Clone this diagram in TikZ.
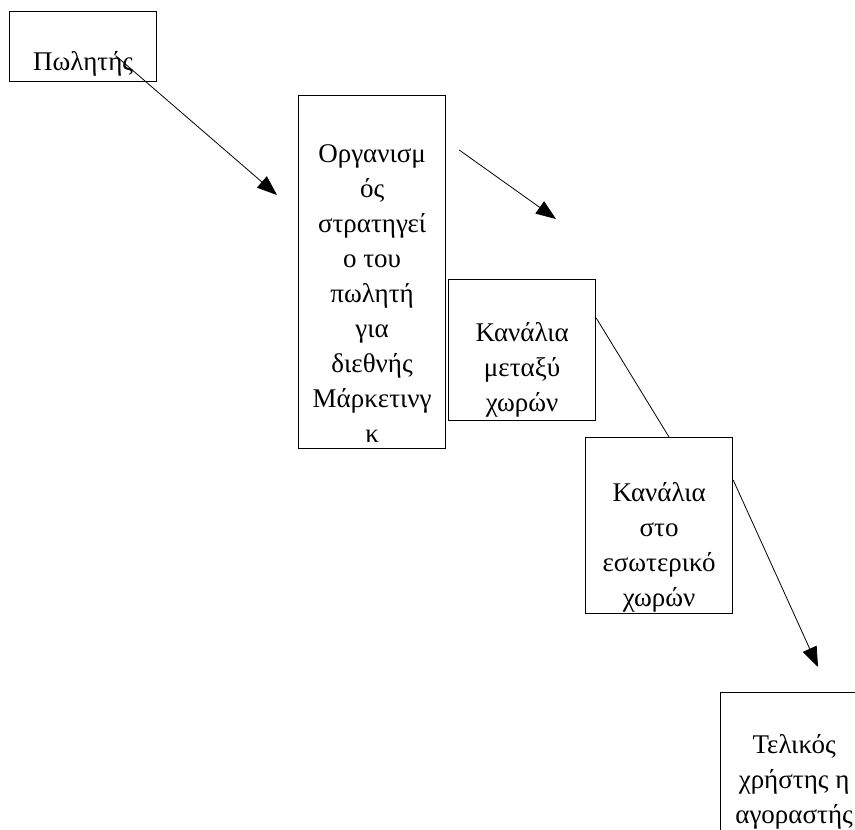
\documentclass[tikz,border=0pt]{standalone}
\usepackage{fontspec}
\setmainfont{Liberation Serif}
\usetikzlibrary{arrows.meta,calc}
\begin{document}
\begin{tikzpicture}[x=1pt,y=-1pt]
  % Parameters
  \def\boxwidth{147}
  \def\linesep{35}

  % Styles for boxes, texts and arrows
  \tikzset{
    chanbox/.style={draw, line width=1.2pt, anchor=north west, inner sep=0pt,
      minimum width=\boxwidth pt},
    chantext/.style={anchor=north, align=center, inner sep=0pt,
      font=\fontsize{27}{\linesep}\selectfont},
    flow/.style={line width=0.8pt, -{Triangle[length=20pt,width=15pt]}},
    link/.style={line width=0.8pt}
  }

  % Page frame
  \useasboundingbox (0,0) rectangle (855,830);
  \clip (0,0) rectangle (855,830);

  % Boxes
  \node[chanbox, minimum height=70pt]  (seller)   at (9,11)   {};
  \node[chanbox, minimum height=353pt] (org)      at (298,95) {};
  \node[chanbox, minimum height=141pt] (transit)  at (448,279) {};
  \node[chanbox, minimum height=176pt] (domestic) at (585,437) {};
  \node[chanbox, minimum height=200pt] (enduser)  at (720,692) {};

  % Texts
  \node[chantext] (seller-txt) at ($(seller.north)+(0,34.5)$) {\strut Πωλητής};
  \node[chantext] (org-txt) at ($(org.north)+(0,42.5)$)
    {\strut Οργανισμ\\ός\\στρατηγεί\\ο του\\πωλητή\\για\\διεθνής\\Μάρκετινγ\\κ};
  \node[chantext] (transit-txt) at ($(transit.north)+(0,38)$)
    {\strut Κανάλια\\μεταξύ\\χωρών};
  \node[chantext] (domestic-txt) at ($(domestic.north)+(0,40)$)
    {\strut Κανάλια\\στο\\εσωτερικό\\χωρών};
  \node[chantext] (enduser-txt) at ($(enduser.north)+(0,36.5)$)
    {\strut Τελικός\\χρήστης η\\αγοραστής};

  % Free ends of the connectors
  \coordinate (seller-out) at ($(seller.center)+(32.5,9)$);
  \coordinate (org-in)     at (277,195);
  \coordinate (org-out)    at ($(org.north east)+(13,55)$);
  \coordinate (org-tip)    at (556,219);
  \coordinate (enduser-in) at (818,667);

  % Connectors
  \draw[flow] (seller-out) -- (org-in);
  \draw[flow] (org-out) -- (org-tip);
  \draw[link] ($(transit.north east)+(0,39)$) -- ($(domestic.north west)+(84,0)$);
  \draw[flow] ($(domestic.north east)+(0,43)$) -- (enduser-in);

\end{tikzpicture}
\end{document}
